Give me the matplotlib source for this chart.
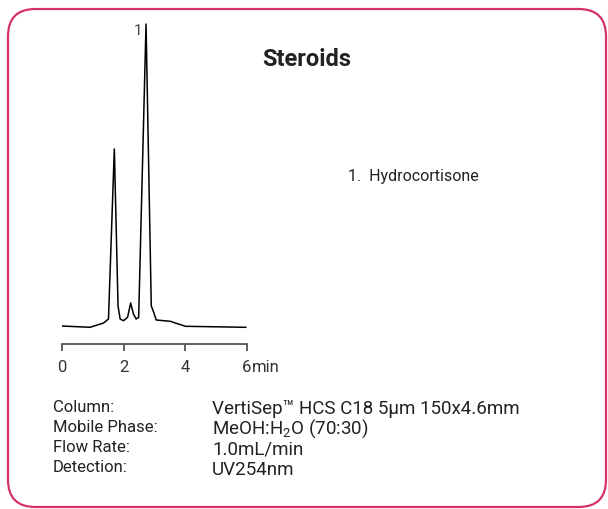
import matplotlib
matplotlib.use("Agg")
import matplotlib.pyplot as plt
from matplotlib import font_manager
from matplotlib.patches import FancyBboxPatch

# pick a plain sans close to the original typeface
names = set(f.name for f in font_manager.fontManager.ttflist)
face = "DejaVu Sans"
for cand in ["Roboto", "Noto Sans", "Liberation Sans"]:
    if cand in names:
        face = cand
        break
plt.rcParams['font.family'] = [face, 'DejaVu Sans']
plt.rcParams['mathtext.fontset'] = 'custom'
plt.rcParams['mathtext.rm'] = face
plt.rcParams['mathtext.it'] = face

# chromatogram trace (time in min, signal in arb. units)
time = [0.0, 0.91, 1.35, 1.51, 1.70, 1.82, 1.89, 2.00, 2.13, 2.23, 2.32, 2.41, 2.49,
        2.73, 2.90, 2.98, 3.06, 3.52, 3.68, 4.01, 5.97]
signal = [0, -1.3, 3, 7, 177, 20, 7, 5.3, 8.7, 23, 12, 7, 8.7,
          302, 20, 13.7, 6, 4.7, 3, -0.3, -1.3]
peak_label = "1"
peak_time = 2.73

xticks = [0, 2, 4, 6]
xticklabels = ["0", "2", "4", "6"]

title = "Steroids"
compounds = ["1.  Hydrocortisone"]
cond_names = ["Column:", "Mobile Phase:", "Flow Rate:", "Detection:"]
cond_values = ["VertiSep\u2122 HCS C18 5\u00b5m 150x4.6mm", "MeOH:H$_2$O (70:30)",
               "1.0mL/min", "UV254nm"]

W, H = 608, 510
fig = plt.figure(figsize=(W / 100, H / 100), dpi=100)

# rounded frame
frame = FancyBboxPatch((8 / W, 2 / H), 598 / W, 498 / H,
                       boxstyle="round,pad=0,rounding_size=0.045",
                       transform=fig.transFigure, fill=False,
                       edgecolor="#d4336a", linewidth=1.6, mutation_aspect=W / H)
fig.patches.append(frame)

# axes: x 62..246.7 px -> 0..6 min
ax = fig.add_axes([62 / W, 1 - 345 / H, 184.7 / W, 325 / H])
ax.plot(time, signal, color="black", linewidth=1.1)
ax.set_xlim(0, 6)
ax.set_ylim(-18, 307)
for s in ["top", "right", "left"]:
    ax.spines[s].set_visible(False)
ax.spines["bottom"].set_color("#555555")
ax.spines["bottom"].set_linewidth(1.3)
ax.set_yticks([])
ax.set_xticks(xticks)
ax.set_xticklabels(xticklabels)
ax.tick_params(axis="x", direction="out", length=5, width=1.3, color="#555555",
               labelsize=12, labelcolor="#333333", pad=6)
ax.patch.set_visible(False)
ax.annotate("min", xy=(6, -18), xytext=(3.5, -19.5), textcoords="offset points",
            fontsize=12, color="#333333", ha="left", va="baseline")
ax.annotate(peak_label, xy=(peak_time, 302), xytext=(-6, -4), textcoords="offset points",
            fontsize=11, color="#444444", ha="center", va="center")


def fx(x):
    return x / W


def fy(y):
    return 1 - y / H


fig.text(fx(307), fy(60), title, fontsize=17, fontweight="bold", color="#222222",
         ha="center", va="center")
for i, c in enumerate(compounds):
    fig.text(fx(348), fy(177 + 20 * i), c, fontsize=11.5, color="#222222",
             ha="left", va="center")

left_y = [408, 428, 448, 468]
right_y = [409, 429, 450, 470]
for n, yy in zip(cond_names, left_y):
    fig.text(fx(53), fy(yy), n, fontsize=12, color="#222222", ha="left", va="center")
for v, yy in zip(cond_values, right_y):
    fig.text(fx(212), fy(yy), v, fontsize=13.5, color="#222222", ha="left", va="center")

fig.savefig("out.png", dpi=100)
